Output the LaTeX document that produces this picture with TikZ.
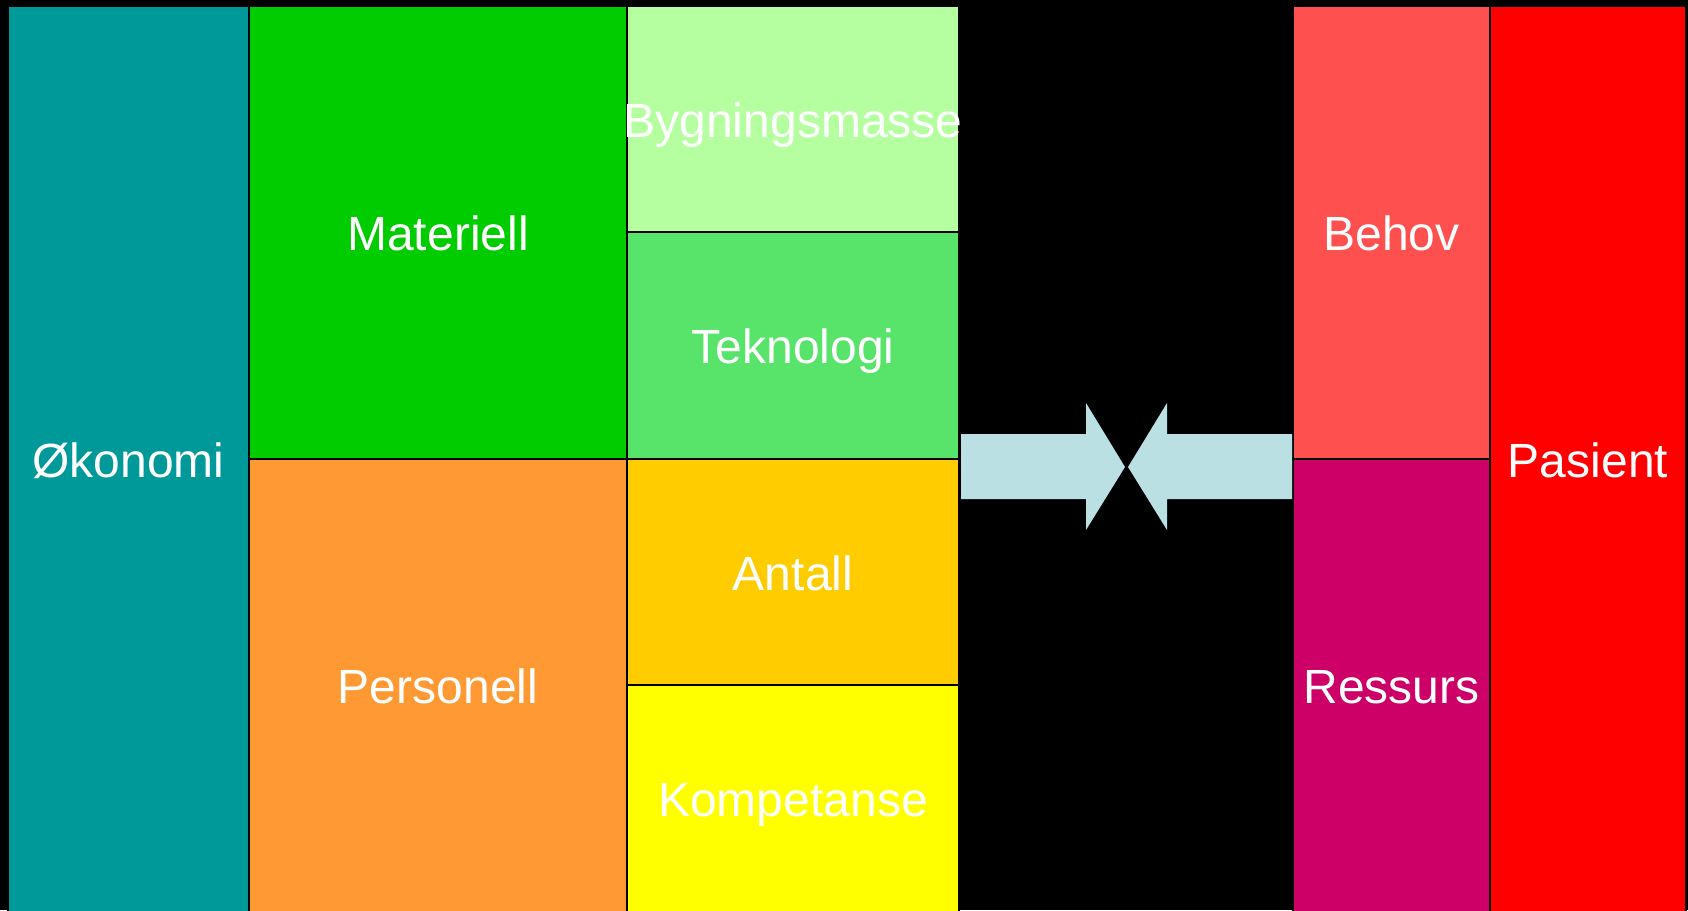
\documentclass[tikz,border=0pt]{standalone}
\usepackage{fontspec}
\setmainfont{Liberation Sans}
\definecolor{cOko}{HTML}{009999}
\definecolor{cMat}{HTML}{00CC00}
\definecolor{cByg}{HTML}{B5FFA0}
\definecolor{cTek}{HTML}{58E36B}
\definecolor{cPer}{HTML}{FF9933}
\definecolor{cAnt}{HTML}{FFCC00}
\definecolor{cKom}{HTML}{FFFF00}
\definecolor{cBeh}{HTML}{FF5050}
\definecolor{cRes}{HTML}{CC0066}
\definecolor{cPas}{HTML}{FF0000}
\definecolor{cArr}{HTML}{BAE0E3}
\begin{document}
\begin{tikzpicture}[x=1pt,y=-1pt,
  box/.style={draw=black, line width=1.5pt, rectangle, inner sep=0pt, text=white,
    font=\fontsize{48}{58}\selectfont, text height=44.8pt, text depth=8.8pt},
  arrowshape/.style={fill=cArr, draw=none}]
\fill[black] (0,0) rectangle (1688,910);
\useasboundingbox (0,0) rectangle (1688,910);
\node[box, fill=cOko, minimum width=241, minimum height=906] (oko) at (128.5,459) {Økonomi};
\node[box, fill=cMat, minimum width=378, minimum height=453] (mat) at (438,232.5) {Materiell};
\node[box, fill=cPer, minimum width=378, minimum height=453] (per) at (438,685.5) {Personell};
\node[box, fill=cByg, minimum width=332, minimum height=226] (byg) at (793,119) {\makebox[0pt]{Bygningsmasse}};
\node[box, fill=cTek, minimum width=332, minimum height=227] (tek) at (793,345.5) {Teknologi};
\node[box, fill=cAnt, minimum width=332, minimum height=226] (ant) at (793,572) {Antall};
\node[box, fill=cKom, minimum width=332, minimum height=227] (kom) at (793,798.5) {Kompetanse};
\node[box, fill=cBeh, minimum width=197, minimum height=453] (beh) at (1391.5,232.5) {Behov};
\node[box, fill=cRes, minimum width=197, minimum height=453] (res) at (1391.5,685.5) {Ressurs};
\node[box, fill=cPas, minimum width=196, minimum height=906] (pas) at (1588,459) {Pasient};
% arrows
\fill[arrowshape] (961,434) -- (1086,434) -- (1086,403) -- (1125,467) -- (1086,530) -- (1086,499) -- (961,499) -- cycle;
\fill[arrowshape] (1292,434) -- (1167,434) -- (1167,403) -- (1128,467) -- (1167,530) -- (1167,499) -- (1292,499) -- cycle;
\end{tikzpicture}
\end{document}
